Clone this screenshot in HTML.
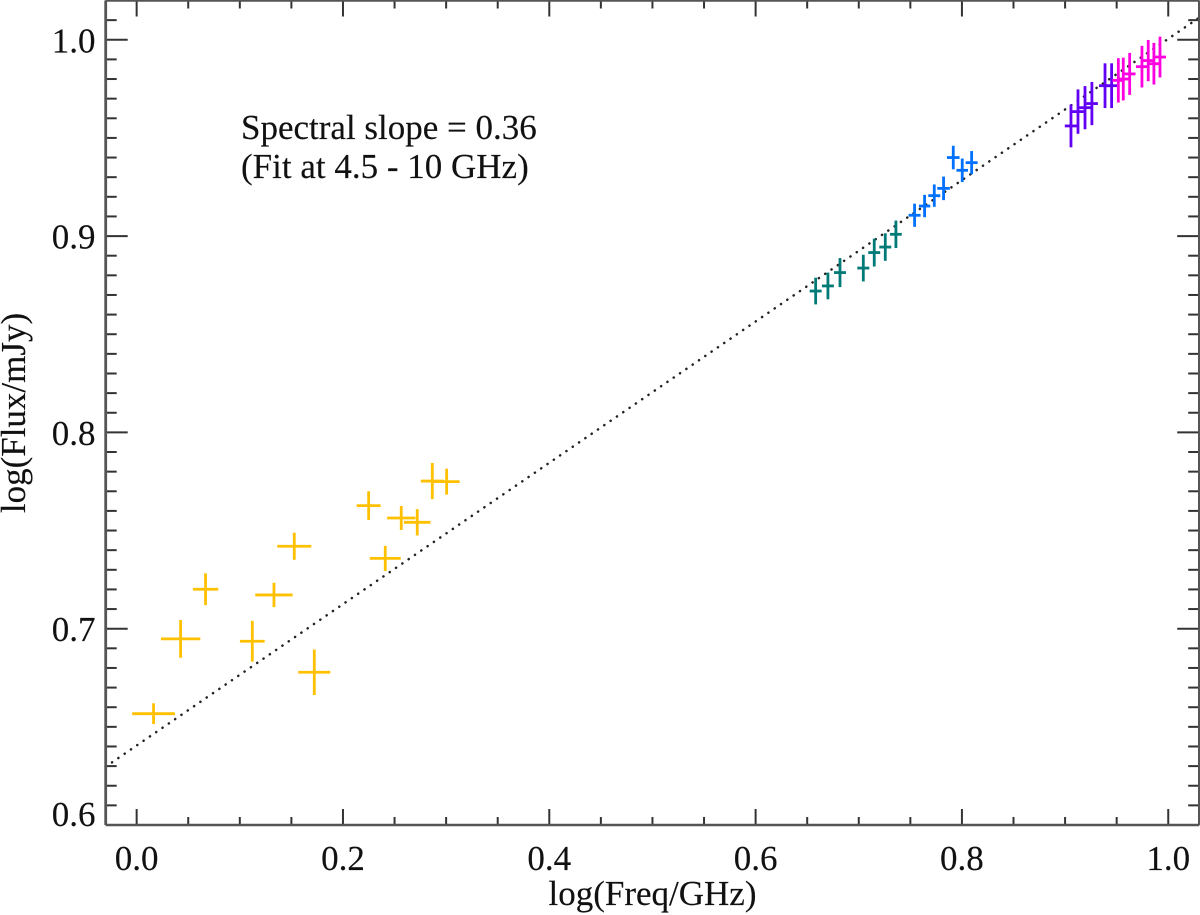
<!DOCTYPE html>
<html lang="en">
<head>
<meta charset="utf-8">
<title>Spectral slope chart</title>
<style>
html,body{margin:0;padding:0;background:#fff;}
svg{display:block;}
text{font-family:"Liberation Serif","Times New Roman",serif;fill:#111;font-size:35px;stroke:#111;stroke-width:0.15px;}
</style>
</head>
<body>
<svg id="chart" xmlns="http://www.w3.org/2000/svg" width="1200" height="915" viewBox="0 0 1200 915">
  <rect x="0" y="0" width="1200" height="915" fill="#fff"/>
  <g id="fit"></g>
  <g id="series"></g>
  <g id="axes"></g>
  <text x="241" y="139">Spectral slope = 0.36</text>
  <text x="241" y="178">(Fit at 4.5 - 10 GHz)</text>
  <text x="652.5" y="905" text-anchor="middle">log(Freq/GHz)</text>
  <text transform="translate(25 413) rotate(-90)" text-anchor="middle">log(Flux/mJy)</text>
</svg>
<script>
const yellowX = [0.0164,0.0426,0.0668,0.1121,0.1331,0.1528,0.1722,0.2249,0.2410,0.2565,0.2720,0.2866,0.3005];
const yellowY = [0.6567,0.6948,0.7201,0.6936,0.7172,0.7420,0.6778,0.7627,0.7358,0.7564,0.7542,0.7752,0.7749];
const yellowXErr = [0.0207,0.0191,0.0123,0.0120,0.0181,0.0165,0.0155,0.0116,0.0150,0.0137,0.0129,0.0111,0.0126];
const yellowYErr = [0.0053,0.0096,0.0081,0.0104,0.0062,0.0069,0.0116,0.0073,0.0064,0.0061,0.0067,0.0092,0.0066];

const tealX = [0.6582,0.6701,0.6818,0.7044,0.7150,0.7257,0.7360];
const tealY = [0.8720,0.8746,0.8814,0.8837,0.8916,0.8944,0.9009];
const tealXErr = [0.0058,0.0058,0.0058,0.0058,0.0058,0.0058,0.0057];
const tealYErr = [0.0068,0.0068,0.0074,0.0068,0.0071,0.0070,0.0070];

const blueX = [0.7541,0.7638,0.7732,0.7822,0.7916,0.8003,0.8094];
const blueY = [0.9106,0.9153,0.9206,0.9243,0.9400,0.9335,0.9374];
const blueXErr = [0.0058,0.0055,0.0058,0.0061,0.0061,0.0056,0.0058];
const blueYErr = [0.0059,0.0057,0.0057,0.0060,0.0060,0.0060,0.0059];

const purpleX = [0.9057,0.9125,0.9193,0.9260,0.9387,0.9451];
const purpleY = [0.9561,0.9634,0.9654,0.9675,0.9766,0.9766];
const purpleXErr = [0.0060,0.0058,0.0058,0.0058,0.0058,0.0058];
const purpleYErr = [0.0109,0.0113,0.0110,0.0110,0.0114,0.0114];

const magentaX = [0.9516,0.9564,0.9626,0.9745,0.9806,0.9861,0.9920];
const magentaY = [0.9793,0.9800,0.9826,0.9863,0.9894,0.9878,0.9912];
const magentaXErr = [0.0058,0.0058,0.0057,0.0058,0.0058,0.0058,0.0058];
const magentaYErr = [0.0113,0.0109,0.0107,0.0106,0.0105,0.0106,0.0104];

const fitSlope = 0.36;
const fitIntercept = 0.6405;
const fitRange = [-0.03, 1.03];

const xTickLabels = ["0.0","0.2","0.4","0.6","0.8","1.0"];
const yTickLabels = ["0.6","0.7","0.8","0.9","1.0"];
const xDomain = [-0.03, 1.03];
const yDomain = [0.6, 1.02];

const SVG_NS = "http://www.w3.org/2000/svg";
const plotLeft = 105.7, plotRight = 1199.2, plotTop = 0.5, plotBottom = 825;

function xScale(v) {
  return plotLeft + (v - xDomain[0]) / (xDomain[1] - xDomain[0]) * (plotRight - plotLeft);
}
function yScale(v) {
  return plotBottom - (v - yDomain[0]) / (yDomain[1] - yDomain[0]) * (plotBottom - plotTop);
}
function line(parent, x1, y1, x2, y2, stroke, width) {
  const el = document.createElementNS(SVG_NS, "line");
  el.setAttribute("x1", x1);
  el.setAttribute("y1", y1);
  el.setAttribute("x2", x2);
  el.setAttribute("y2", y2);
  el.setAttribute("stroke", stroke);
  el.setAttribute("stroke-width", width);
  parent.appendChild(el);
  return el;
}

// Fit line
const fitGroup = document.getElementById("fit");
const fitLine = line(fitGroup, xScale(fitRange[0]), yScale(fitIntercept + fitSlope * fitRange[0]), xScale(fitRange[1]), yScale(fitIntercept + fitSlope * fitRange[1]), "#222", 2.5);


fitLine.setAttribute("stroke-dasharray", "0.1 7.55");
fitLine.setAttribute("stroke-linecap", "round");

// Data series
function drawSeries(label, xs, ys, xErrs, yErrs, color) {
  const group = document.createElementNS(SVG_NS, "g");
  
  
  document.getElementById("series").appendChild(group);
  xs.forEach(function (xv, i) {
    const marker = document.createElementNS(SVG_NS, "g");
    
    
    group.appendChild(marker);
    line(marker, xScale(xv - xErrs[i]), yScale(ys[i]), xScale(xv + xErrs[i]), yScale(ys[i]), color, 2.8);
    line(marker, xScale(xv), yScale(ys[i] - yErrs[i]), xScale(xv), yScale(ys[i] + yErrs[i]), color, 2.8);
  });
}
drawSeries("yellow", yellowX, yellowY, yellowXErr, yellowYErr, "#FFC000");
drawSeries("teal", tealX, tealY, tealXErr, tealYErr, "#007A76");
drawSeries("blue", blueX, blueY, blueXErr, blueYErr, "#0070FF");
drawSeries("purple", purpleX, purpleY, purpleXErr, purpleYErr, "#6200F5");
drawSeries("magenta", magentaX, magentaY, magentaXErr, magentaYErr, "#FF00E0");

// Axes
const axes = document.getElementById("axes");
const axisColor = "#333";

for (let i = 0; i <= 20; i++) {
  const xv = i * 0.05;
  const major = i % 4 === 0;
  const px = xScale(xv);
  const bottomTick = line(axes, px, plotBottom, px, plotBottom - (major ? 16 : 8), axisColor, 2);
  
  
  const topTick = line(axes, px, plotTop, px, plotTop + (major ? 16 : 8), axisColor, 2);
  
  
}
for (let i = 0; i <= 42; i++) {
  const yv = 0.6 + i * 0.01;
  const major = i % 10 === 0;
  const py = yScale(yv);
  const leftTick = line(axes, plotLeft, py, plotLeft + (major ? 22 : 11), py, axisColor, 2);
  
  
  const rightTick = line(axes, plotRight, py, plotRight - (major ? 22 : 11), py, axisColor, 2);
  
  
}

const frameLeft = line(axes, plotLeft, plotTop, plotLeft, plotBottom, "#555", 2.8);


const frameRight = line(axes, plotRight, plotTop, plotRight, plotBottom, "#555", 2.4);


const frameTop = line(axes, plotLeft, plotTop, plotRight, plotTop, "#555", 2.4);


const frameBottom = line(axes, plotLeft, plotBottom, plotRight, plotBottom, "#555", 2.6);



xTickLabels.forEach(function (label) {
  const t = document.createElementNS(SVG_NS, "text");
  
  
  t.setAttribute("x", xScale(parseFloat(label)));
  t.setAttribute("y", 870);
  t.setAttribute("text-anchor", "middle");
  t.textContent = label;
  document.getElementById("chart").appendChild(t);
});
yTickLabels.forEach(function (label) {
  const t = document.createElementNS(SVG_NS, "text");
  
  
  t.setAttribute("x", 95.5);
  t.setAttribute("y", Math.min(yScale(parseFloat(label)) + 12.5, 826));
  t.setAttribute("text-anchor", "end");
  t.textContent = label;
  document.getElementById("chart").appendChild(t);
});
</script>
</body>
</html>
